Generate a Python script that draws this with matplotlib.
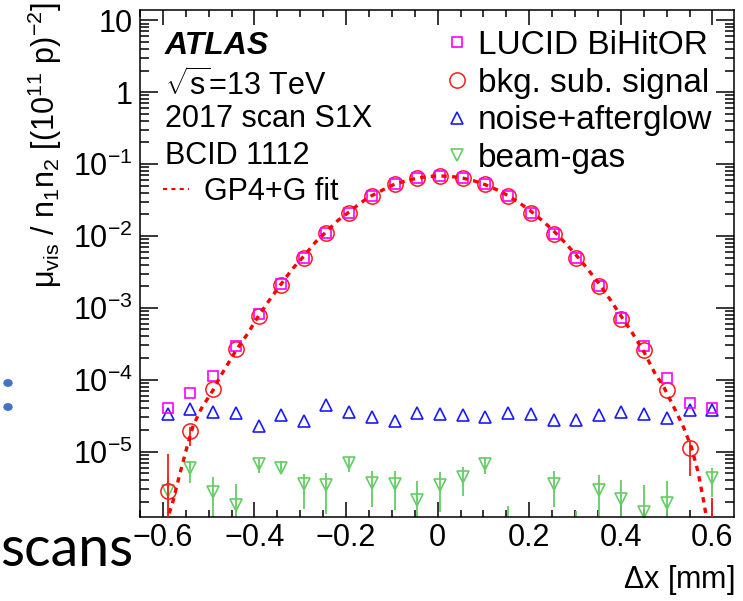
import matplotlib
matplotlib.use('Agg')
import matplotlib.pyplot as plt
import numpy as np
from matplotlib import ticker
from matplotlib.lines import Line2D

plt.rcParams['font.family'] = ['Liberation Sans', 'DejaVu Sans']
plt.rcParams['mathtext.fontset'] = 'custom'
plt.rcParams['mathtext.rm'] = 'Liberation Sans'
plt.rcParams['mathtext.it'] = 'Liberation Sans:italic'
plt.rcParams['mathtext.bf'] = 'Liberation Sans:bold'

W, H = 743, 601

########################################################
# Data
########################################################

dx = [-0.589, -0.540, -0.490, -0.441, -0.391, -0.342, -0.292, -0.243, -0.193,
      -0.144, -0.094, -0.045, 0.005, 0.055, 0.104, 0.154, 0.203, 0.253,
      0.302, 0.352, 0.401, 0.451, 0.500, 0.550, 0.599]

lucid = [4.0e-5, 6.5e-5, 1.14e-4, 2.9e-4, 8.1e-4, 2.13e-3, 4.95e-3, 1.1e-2, 2.1e-2,
         3.6e-2, 5.3e-2, 6.3e-2, 6.8e-2, 6.4e-2, 5.2e-2, 3.6e-2, 2.1e-2, 1.05e-2,
         4.95e-3, 2.03e-3, 7.3e-4, 2.9e-4, 1.05e-4, 4.8e-5, 4.0e-5]

signal = [2.83e-6, 1.95e-5, 7.4e-5, 2.7e-4, 7.8e-4, 2.1e-3, 4.9e-3, 1.1e-2, 2.1e-2,
          3.6e-2, 5.3e-2, 6.3e-2, 6.8e-2, 6.4e-2, 5.2e-2, 3.6e-2, 2.1e-2, 1.05e-2,
          4.9e-3, 2.0e-3, 7.0e-4, 2.6e-4, 7.3e-5, 1.11e-5, 5.0e-7]
# error bar ends (absolute)
signal_lo = [1e-7, 1.2e-5, 7.4e-5, 2.7e-4, 7.8e-4, 2.1e-3, 4.9e-3, 1.1e-2, 2.1e-2,
             3.6e-2, 5.3e-2, 6.3e-2, 6.8e-2, 6.4e-2, 5.2e-2, 3.6e-2, 2.1e-2, 1.05e-2,
             4.9e-3, 2.0e-3, 7.0e-4, 2.6e-4, 7.3e-5, 4.6e-6, 5.0e-7]
signal_hi = [9.3e-6, 2.2e-5, 7.4e-5, 2.7e-4, 7.8e-4, 2.1e-3, 4.9e-3, 1.1e-2, 2.1e-2,
             3.6e-2, 5.3e-2, 6.3e-2, 6.8e-2, 6.4e-2, 5.2e-2, 3.6e-2, 2.1e-2, 1.05e-2,
             4.9e-3, 2.0e-3, 7.0e-4, 2.6e-4, 7.3e-5, 1.4e-5, 2.26e-6]

noise = [3.33e-5, 3.85e-5, 3.58e-5, 3.43e-5, 2.26e-5, 3.21e-5, 2.68e-5, 4.43e-5, 3.5e-5,
         2.98e-5, 2.65e-5, 3.43e-5, 3.32e-5, 3.18e-5, 3.05e-5, 3.39e-5, 3.32e-5, 2.74e-5,
         2.74e-5, 3.21e-5, 3.5e-5, 3.32e-5, 2.95e-5, 3.78e-5, 3.78e-5]

nan = np.nan
beamgas = [2.83e-6, 5.86e-6, 2.77e-6, 1.79e-6, 6.67e-6, 5.86e-6, 3.5e-6, 3.4e-6, 7.03e-6,
           3.7e-6, 3.5e-6, 2.1e-6, 3.4e-6, 4.43e-6, 6.8e-6, 9.0e-7, nan, 3.5e-6,
           9.0e-7, 2.89e-6, 2.17e-6, 1.44e-6, 1.95e-6, nan, 4.34e-6]
beamgas_lo = [1e-7, 3.7e-6, 1e-7, 1e-7, 5.1e-6, 5.0e-6, 1.6e-6, 1.37e-6, 5.2e-6,
              1.71e-6, 1.53e-6, 1e-7, 1.43e-6, 2.41e-6, 4.8e-6, 9.0e-7, nan, 1.71e-6,
              9.0e-7, 1e-7, 1e-7, 1e-7, 1e-7, nan, 2.3e-6]
beamgas_hi = [4.58e-6, 7.4e-6, 4.48e-6, 3.58e-6, 7.8e-6, 7.4e-6, 4.9e-6, 5.1e-6, 8.5e-6,
              5.4e-6, 5.3e-6, 3.9e-6, 5.2e-6, 6.2e-6, 8.5e-6, 1.75e-6, nan, 5.3e-6,
              1.49e-6, 4.7e-6, 4.0e-6, 3.4e-6, 3.9e-6, nan, 6.0e-6]

# GP4+G fit curve
fit_x = [-0.595, -0.589, -0.578, -0.563, -0.548, -0.534, -0.516, -0.490, -0.476, -0.460,
         -0.440, -0.415, -0.391, -0.366, -0.342, -0.317, -0.292, -0.267, -0.243, -0.218,
         -0.193, -0.168, -0.144, -0.119, -0.094, -0.069, -0.045, -0.020, 0.005, 0.030,
         0.055, 0.079, 0.104, 0.129, 0.154, 0.178, 0.203, 0.228, 0.253, 0.277,
         0.302, 0.327, 0.352, 0.376, 0.401, 0.426, 0.451, 0.475, 0.492, 0.514,
         0.536, 0.554, 0.568, 0.579, 0.587, 0.593]
fit_log = [-6.30, -5.92, -5.69, -5.31, -4.95, -4.64, -4.40, -4.14, -3.97, -3.80,
           -3.59, -3.36, -3.11, -2.88, -2.67, -2.457, -2.28, -2.087, -1.94, -1.785,
           -1.665, -1.538, -1.44, -1.357, -1.28, -1.233, -1.196, -1.173, -1.165, -1.173,
           -1.196, -1.233, -1.287, -1.357, -1.44, -1.538, -1.653, -1.785, -1.928, -2.087,
           -2.264, -2.457, -2.66, -2.88, -3.12, -3.36, -3.62, -3.92, -4.08, -4.36,
           -4.65, -4.94, -5.27, -5.63, -5.92, -6.30]

xticks = [-0.6, -0.4, -0.2, 0.0, 0.2, 0.4, 0.6]

########################################################
# Plot
########################################################

def px(x, y):
    return x / W, 1 - y / H

fig = plt.figure(figsize=(W / 100, H / 100), dpi=100)
ax = fig.add_axes([140 / W, 1 - 517 / H, (734 - 140) / W, (517 - 10) / H])

c_mag, c_red, c_blue, c_green = '#ff00ff', '#ff1a1a', '#1a1aff', '#66cc66'

x = np.array(dx)
bg = np.array(beamgas)
ax.errorbar(x, bg, yerr=[bg - np.array(beamgas_lo), np.array(beamgas_hi) - bg],
            fmt='v', ms=8, mfc='none', mec=c_green, mew=1.2, ecolor=c_green,
            elinewidth=1.3, capsize=0, zorder=2)
ax.plot(x, noise, ls='none', marker='^', ms=8, mfc='none', mec=c_blue, mew=1.2, zorder=3)
sig = np.array(signal)
ax.errorbar(x, sig, yerr=[sig - np.array(signal_lo), np.array(signal_hi) - sig],
            fmt='o', ms=11, mfc='none', mec=c_red, mew=1.1, ecolor=c_red,
            elinewidth=1.3, capsize=0, zorder=4)
ax.plot(x, lucid, ls='none', marker='s', ms=7.8, mfc='none', mec=c_mag, mew=1.2, zorder=5)
ax.plot(fit_x, 10 ** np.array(fit_log), color='#ff0000', lw=2.4, ls=(0, (1.6, 1.6)), zorder=6)

ax.set_yscale('log')
ax.set_xlim(-0.65, 0.647)
ax.set_ylim(1.23e-6, 13.9)

ax.xaxis.set_major_locator(ticker.FixedLocator(xticks))
ax.xaxis.set_minor_locator(ticker.FixedLocator(np.round(np.arange(-0.65, 0.651, 0.05), 3)))
ax.xaxis.set_major_formatter(ticker.FuncFormatter(
    lambda v, p: '0' if abs(v) < 1e-9 else f'{v:.1f}'.replace('-', '\u2212')))


def logfmt(v, pos):
    e = int(round(np.log10(v)))
    if e == 1:
        return '10'
    if e == 0:
        return '1'
    return r'$10^{\mathregular{-%d}}$' % (-e)


ax.yaxis.set_major_locator(ticker.LogLocator(base=10, numticks=20))
ax.yaxis.set_minor_locator(ticker.LogLocator(base=10, subs=np.arange(2, 10), numticks=20))
ax.yaxis.set_major_formatter(ticker.FuncFormatter(logfmt))
ax.yaxis.set_minor_formatter(ticker.NullFormatter())

ax.tick_params(which='both', direction='in', top=True, right=True, width=1.1,
               labelsize=22, colors='black')
ax.tick_params(axis='x', which='major', length=10.5, pad=4)
ax.tick_params(axis='x', which='minor', length=5.3)
ax.tick_params(axis='y', which='major', length=13, pad=5)
ax.tick_params(axis='y', which='minor', length=6.5)
for s in ax.spines.values():
    s.set_linewidth(1.1)

# axis titles
fig.text(*px(735, 580), r'$\Delta$x [mm]', fontsize=22, ha='right', va='center')
fig.text(*px(45, 2), r'$\mathregular{\mu_{vis}}$ / n$_\mathregular{1}$n$_\mathregular{2}$ [(10$^\mathregular{11}$ p)$^\mathregular{-2}$]',
         fontsize=22, rotation=90, ha='center', va='top')

# labels inside the frame
fig.text(*px(165, 46), 'ATLAS', fontsize=23, fontweight='bold', fontstyle='italic', va='center')
fig.text(*px(165, 85), r'$\sqrt{\mathregular{s}}$=13 TeV', fontsize=22, va='center')
fig.text(*px(165, 119), '2017 scan S1X', fontsize=22, va='center')
fig.text(*px(165, 156), 'BCID 1112', fontsize=22, va='center')

handles = [
    Line2D([], [], ls='none', marker='s', ms=7.8, mfc='none', mec=c_mag, mew=1.2),
    Line2D([], [], ls='none', marker='o', ms=11, mfc='none', mec=c_red, mew=1.1),
    Line2D([], [], ls='none', marker='^', ms=8, mfc='none', mec=c_blue, mew=1.2),
    Line2D([], [], ls='none', marker='v', ms=8, mfc='none', mec=c_green, mew=1.2),
]
labels = ['LUCID BiHitOR', 'bkg. sub. signal', 'noise+afterglow', 'beam-gas']
leg = ax.legend(handles, labels, loc='upper left', bbox_to_anchor=px(444, 30),
                bbox_transform=fig.transFigure, frameon=False, fontsize=24,
                handlelength=0.8, handletextpad=0.22, labelspacing=0.2,
                borderpad=0, borderaxespad=0)
ax.add_artist(leg)
fit_handle = Line2D([], [], color='#ff0000', lw=1.5, ls=(0, (2, 2)))
ax.legend([fit_handle], ['GP4+G fit'], loc='upper left', bbox_to_anchor=px(163, 177),
          bbox_transform=fig.transFigure, frameon=False, fontsize=22,
          handlelength=0.85, handletextpad=0.5, borderpad=0, borderaxespad=0)

# slide remnants around the picture
fig.text(*px(0, 566), 'scans', fontsize=40, family='Lato', ha='left', va='baseline')
fig.patches.append(plt.Circle(px(8, 383), 4 / W, color='#4472c4', transform=fig.transFigure))
fig.patches.append(plt.Circle(px(8, 407), 4 / W, color='#4472c4', transform=fig.transFigure))

fig.savefig('out.png', dpi=100)
